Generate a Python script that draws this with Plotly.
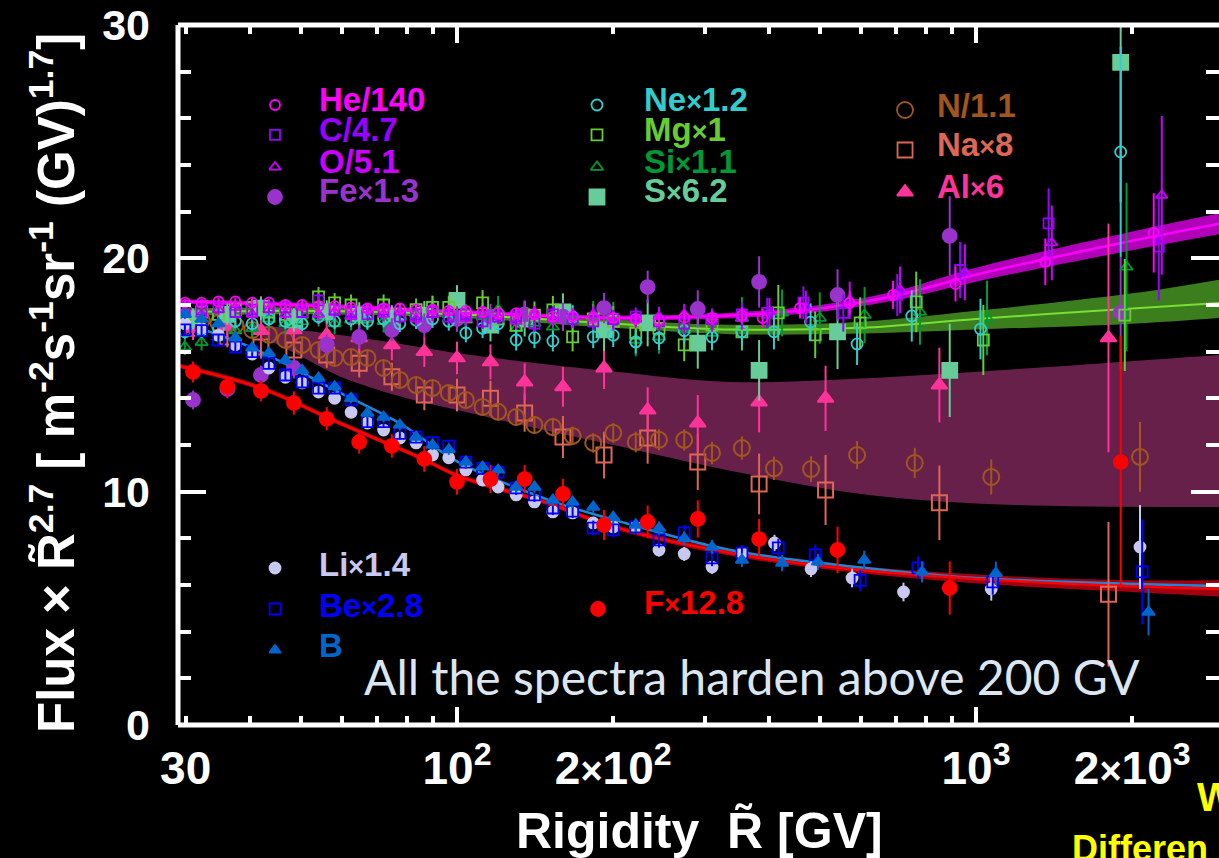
import plotly.graph_objects as go

# ---------------- rigidity bins [GV] ----------------
R_FINE = [29.9, 32.2, 34.7, 37.4, 40.3, 43.4, 46.7, 50.3, 54.1, 58.1, 62.5, 67.2, 72.2, 77.6,
          83.4, 89.7, 96.4, 104, 112, 120, 130, 141, 153, 167, 183, 200, 221, 245, 274, 310]
R_COARSE = [31.0, 36.1, 41.9, 48.5, 56.1, 64.8, 74.9, 86.5, 100, 116, 135, 160, 192, 233, 291,
            382, 541, 890, 1900]
R_COARSE_B = [31.0, 36.1, 41.9, 48.5, 56.1, 64.8, 74.9, 86.5, 100, 116, 135, 160, 192, 233, 291,
              382, 513, 850, 1800]

# ---------------- He / C / O / Fe ----------------
he_R = R_FINE + [354, 388, 458, 571, 692, 913, 1360, 2200]
he_y = [18.1, 18.1, 18.15, 18.15, 18.1, 18.1, 18.0, 18.0, 17.95, 17.95, 17.9, 17.85, 17.85, 17.85,
        17.8, 17.8, 17.75, 17.75, 17.7, 17.65, 17.65, 17.6, 17.5, 17.5, 17.45, 17.45, 17.4, 17.35,
        17.45, 17.45, 17.55, 17.44, 17.87, 18.09, 18.43, 18.9, 19.85, 21.09]
he_e = [0.15, 0.15, 0.15, 0.15, 0.15, 0.15, 0.15, 0.15, 0.15, 0.15, 0.15, 0.15, 0.15, 0.15, 0.15,
        0.18, 0.18, 0.18, 0.18, 0.2, 0.2, 0.2, 0.2, 0.22, 0.22, 0.25, 0.25, 0.28, 0.3, 0.3,
        0.35, 0.4, 0.45, 0.5, 0.6, 0.75, 1.0, 1.7]

c_R = R_FINE + [354, 396, 465, 555, 705, 932, 1380, 2250]
c_y = [17.9, 17.8, 17.9, 17.7, 17.8, 17.9, 17.9, 17.7, 18.2, 17.8, 17.7, 17.6, 17.8, 17.5, 17.6,
       17.7, 17.5, 17.6, 17.3, 17.5, 17.5, 17.2, 17.6, 17.4, 17.3, 17.4, 17.5, 17.3, 17.2, 17.4,
       17.6, 17.66, 18.1, 17.66, 18.43, 19.5, 21.5, 20.5]
c_e = [0.25, 0.25, 0.25, 0.25, 0.25, 0.25, 0.25, 0.25, 0.28, 0.28, 0.28, 0.28, 0.3, 0.3, 0.3,
       0.3, 0.3, 0.32, 0.32, 0.32, 0.35, 0.35, 0.35, 0.38, 0.38, 0.4, 0.4, 0.42, 0.45, 0.45,
       0.5, 0.65, 0.7, 0.8, 0.9, 1.2, 1.5, 2.3]

o_R = R_FINE + [354, 400, 470, 571, 714, 952, 1400, 2280]
o_y = [17.7, 17.6, 17.8, 17.9, 17.6, 17.8, 17.6, 17.9, 17.6, 17.7, 17.5, 17.8, 17.6, 17.7, 17.4,
       17.6, 17.7, 17.4, 17.6, 17.5, 17.3, 17.6, 17.4, 17.5, 17.6, 17.3, 17.4, 17.5, 17.6, 17.3,
       17.44, 17.7, 17.9, 18.2, 18.65, 19.4, 20.66, 22.7]
o_e = [0.25, 0.25, 0.25, 0.25, 0.25, 0.25, 0.25, 0.25, 0.28, 0.28, 0.28, 0.28, 0.3, 0.3, 0.3,
       0.3, 0.3, 0.32, 0.32, 0.32, 0.35, 0.35, 0.35, 0.38, 0.38, 0.4, 0.4, 0.42, 0.45, 0.45,
       0.5, 0.6, 0.7, 0.8, 1.0, 1.2, 1.6, 3.4]

fe_y = [13.93, 14.4, 15.0, 15.3, 16.3, 16.63, 16.93, 17.14, 17.4, 17.5, 17.6, 17.5, 17.87, 18.77,
        17.83, 18.99, 18.43, 20.96, 17.66]
fe_e = [0.4, 0.4, 0.4, 0.45, 0.45, 0.5, 0.5, 0.5, 0.55, 0.55, 0.6, 0.6, 0.65, 0.7, 0.8, 1.1, 1.1,
        1.7, 2.4]

# ---------------- Ne / Mg / Si / S ----------------
ne_R = R_FINE + [354, 408, 480, 590, 752, 1020, 1900]
ne_y = [16.85, 16.9, 17.0, 17.3, 17.2, 17.4, 17.3, 17.2, 17.5, 17.3, 17.4, 17.3, 17.4, 17.2, 17.35,
        17.4, 17.3, 16.8, 17.0, 17.2, 16.5, 16.6, 16.46, 17.5, 16.63, 16.7, 16.42, 16.59, 16.9, 16.63,
        16.85, 16.85, 17.27, 16.33, 17.53, 16.97, 24.56]
ne_e = [0.3, 0.3, 0.3, 0.3, 0.3, 0.3, 0.32, 0.32, 0.32, 0.34, 0.34, 0.34, 0.36, 0.36, 0.38, 0.38,
        0.4, 0.4, 0.42, 0.42, 0.45, 0.45, 0.45, 0.48, 0.48, 0.5, 0.5, 0.52, 0.55, 0.55,
        0.6, 0.75, 0.8, 0.9, 1.1, 1.3, 4.5]

mg_R = R_FINE + [354, 416, 490, 598, 767, 1033, 1935]
mg_y = [17.4, 17.7, 17.6, 17.8, 17.9, 17.7, 17.6, 17.7, 18.35, 18.09, 18.0, 17.6, 18.0, 17.6, 17.8,
        17.9, 17.9, 17.5, 18.09, 17.4, 17.14, 17.57, 17.79, 16.63, 17.4, 17.3, 16.8, 17.0, 16.29, 17.14,
        16.85, 17.66, 16.72, 17.23, 18.13, 16.5, 17.57]
mg_e = [0.35, 0.35, 0.35, 0.35, 0.38, 0.38, 0.4, 0.4, 0.42, 0.42, 0.45, 0.45, 0.45, 0.48, 0.48,
        0.5, 0.5, 0.52, 0.55, 0.55, 0.58, 0.58, 0.6, 0.62, 0.62, 0.65, 0.65, 0.68, 0.7, 0.7,
        0.8, 1.2, 1.0, 1.1, 1.3, 1.5, 2.4]

si_R = R_FINE + [354, 423, 500, 610, 780, 1050, 1950]
si_y = [16.2, 16.4, 16.6, 16.9, 17.0, 17.4, 17.2, 17.3, 17.5, 17.2, 17.36, 17.4, 17.3, 17.5, 17.6,
        17.87, 17.6, 17.36, 17.5, 17.79, 17.0, 17.23, 17.06, 17.36, 17.5, 17.44, 16.5, 16.63, 16.93, 16.8,
        17.44, 17.66, 17.44, 17.57, 17.7, 17.44, 19.63]
si_e = [0.35, 0.35, 0.35, 0.38, 0.38, 0.4, 0.4, 0.42, 0.42, 0.45, 0.45, 0.48, 0.48, 0.5, 0.5,
        0.52, 0.55, 0.55, 0.58, 0.6, 0.6, 0.62, 0.65, 0.65, 0.68, 0.7, 0.7, 0.72, 0.75, 0.75,
        0.9, 1.0, 1.1, 1.2, 1.4, 1.6, 3.6]

s_y = [17.4, 17.6, 17.87, 17.36, 17.7, 17.57, 17.44, 17.57, 18.2, 17.14, 17.4, 17.7, 16.93, 17.23,
       16.37, 15.2, 16.85, 15.2, 28.4]
s_e = [0.45, 0.45, 0.5, 0.5, 0.5, 0.55, 0.55, 0.6, 0.65, 0.7, 0.75, 0.8, 0.9, 1.0, 1.1, 1.3, 1.6,
       2.0, 6.0]

# ---------------- N / Na / Al ----------------
n_R = R_FINE + [354, 408, 481, 590, 762, 1070, 2070]
n_y = [17.66, 17.36, 17.23, 17.14, 16.93, 16.72, 16.5, 16.29, 16.07, 15.73, 15.77, 15.73, 15.3, 14.79,
       14.57, 14.44, 14.23, 13.93, 13.63, 13.42, 13.2, 12.86, 12.77, 12.39, 12.09, 12.52, 12.13, 12.22,
       12.22, 11.66, 11.87, 11.0, 10.97, 11.57, 11.23, 10.63, 11.49]
n_e = [0.3, 0.3, 0.3, 0.3, 0.3, 0.3, 0.3, 0.3, 0.32, 0.32, 0.32, 0.32, 0.34, 0.34, 0.34, 0.35,
       0.35, 0.36, 0.36, 0.37, 0.38, 0.38, 0.4, 0.4, 0.42, 0.42, 0.44, 0.45, 0.46, 0.48,
       0.5, 0.5, 0.55, 0.6, 0.65, 0.75, 1.5]

na_y = [17.0, 16.63, 16.2, 16.07, 15.86, 15.5, 14.92, 14.14, 14.14, 14.0, 13.37, 12.34, 11.57, 12.3,
        11.27, 10.33, 10.07, 9.52, 5.6]
na_e = [0.45, 0.45, 0.5, 0.5, 0.55, 0.6, 0.6, 0.65, 0.7, 0.75, 0.8, 0.9, 1.0, 1.1, 1.2, 1.3, 1.5,
        1.6, 3.1]

al_y = [17.0, 17.1, 16.9, 16.93, 16.72, 16.59, 16.29, 16.0, 15.73, 15.56, 14.7, 14.49, 15.3, 13.5,
        12.94, 13.84, 14.0, 14.57, 16.59]
al_e = [0.5, 0.5, 0.55, 0.55, 0.6, 0.6, 0.65, 0.65, 0.7, 0.75, 0.8, 0.85, 0.9, 0.97, 1.2, 1.3, 1.4,
        1.6, 4.9]

# ---------------- Li / Be / B / F ----------------
li_R = R_FINE + [354, 409, 481, 577, 725, 1070, 2070]
li_y = [17.2, 17.0, 16.7, 16.3, 15.9, 15.3, 14.9, 14.66, 14.27, 14.0, 13.4, 12.94, 12.64, 12.3, 12.09,
        11.57, 11.45, 10.93, 10.5, 10.2, 9.86, 9.56, 9.13, 9.09, 8.66, 8.49, 8.49, 7.5, 7.33, 6.77,
        7.37, 7.8, 6.69, 6.3, 5.7, 5.83, 7.63]
li_e = [0.2, 0.2, 0.2, 0.2, 0.2, 0.2, 0.2, 0.2, 0.2, 0.2, 0.2, 0.2, 0.22, 0.22, 0.22, 0.22, 0.22,
        0.24, 0.24, 0.24, 0.25, 0.25, 0.25, 0.26, 0.26, 0.27, 0.28, 0.28, 0.3, 0.3,
        0.3, 0.35, 0.35, 0.4, 0.4, 0.5, 1.8]

be_R = R_FINE + [354, 416, 490, 598, 773, 1077, 2090]
be_y = [16.93, 16.9, 16.5, 16.2, 16.0, 15.5, 15.0, 14.7, 14.44, 14.44, 13.93, 13.0, 13.0, 12.5, 12.34,
        12.1, 11.95, 11.27, 11.0, 10.84, 10.16, 9.86, 9.3, 9.17, 8.44, 8.36, 8.49, 7.93, 8.23, 7.16,
        7.37, 7.59, 7.29, 6.2, 6.73, 6.13, 6.56]
be_e = [0.25, 0.25, 0.25, 0.25, 0.25, 0.25, 0.25, 0.25, 0.25, 0.25, 0.25, 0.25, 0.26, 0.26, 0.26,
        0.27, 0.27, 0.28, 0.28, 0.28, 0.3, 0.3, 0.3, 0.3, 0.32, 0.32, 0.33, 0.33, 0.34, 0.35,
        0.35, 0.4, 0.45, 0.45, 0.5, 0.55, 2.25]

b_R = R_FINE + [354, 423, 496, 609, 787, 1092, 2150]
b_y = [17.6, 17.4, 17.2, 16.6, 16.16, 15.94, 15.64, 15.2, 14.87, 14.5, 14.0, 13.37, 13.2, 12.86, 12.34,
       12.0, 11.8, 11.27, 11.06, 10.93, 10.2, 10.2, 9.64, 9.56, 9.34, 8.9, 8.57, 8.44, 8.0, 7.63,
       7.07, 6.94, 6.99, 7.07, 6.56, 6.5, 4.84]
b_e = [0.2, 0.2, 0.2, 0.2, 0.2, 0.2, 0.2, 0.2, 0.2, 0.2, 0.2, 0.2, 0.22, 0.22, 0.22, 0.22, 0.22,
       0.24, 0.24, 0.24, 0.25, 0.25, 0.25, 0.26, 0.26, 0.27, 0.28, 0.28, 0.3, 0.3,
       0.3, 0.35, 0.35, 0.4, 0.45, 0.5, 1.0]

f_y = [15.13, 14.49, 14.32, 13.80, 13.12, 12.13, 11.96, 11.40, 10.42, 10.54, 10.54, 9.90, 8.57, 8.70,
       8.83, 7.97, 7.50, 5.87, 11.27]
f_e = [0.45, 0.45, 0.45, 0.5, 0.5, 0.5, 0.5, 0.55, 0.55, 0.6, 0.6, 0.65, 0.65, 0.7, 0.8, 0.86, 1.0,
       1.14, 5.4]

# ---------------- fitted curves and bands ----------------
hefit_R = [29, 50, 100, 200, 336, 500, 700, 1000, 2000, 2965]
hefit_y = [18.15, 18.0, 17.7, 17.45, 17.55, 17.85, 18.4, 19.3, 20.75, 21.5]
hefit_hi = [18.25, 18.1, 17.8, 17.55, 17.67, 18.0, 18.6, 19.6, 21.15, 21.95]
hefit_lo = [18.05, 17.9, 17.6, 17.35, 17.43, 17.7, 18.2, 19.0, 20.35, 21.05]

nefit_R = [29, 50, 100, 200, 336, 600, 1000, 2000, 2965]
nefit_y = [17.7, 17.75, 17.6, 17.2, 16.95, 17.02, 17.4, 17.85, 18.09]
nefit_hi = [17.85, 17.9, 17.75, 17.38, 17.15, 17.28, 17.75, 18.5, 19.1]
nefit_lo = [17.55, 17.6, 17.45, 17.02, 16.75, 16.78, 16.95, 17.2, 17.45]

nband_R = [40, 50, 60, 80, 100, 150, 200, 336, 600, 1110, 2965]
nband_hi = [17.2, 16.93, 16.7, 16.29, 15.94, 15.45, 15.15, 14.7, 14.85, 15.2, 15.86]
nband_lo = [16.9, 15.8, 14.9, 14.0, 13.5, 12.6, 12.0, 10.9, 9.9, 9.45, 9.34]

ffit_R = [29, 41.9, 60, 86, 100, 150, 200, 336, 600, 1110, 2000, 2965]
ffit_y = [15.4, 14.44, 12.9, 11.4, 10.7, 9.5, 8.5, 7.37, 6.64, 6.2, 5.95, 5.83]
ffit_hi = [15.5, 14.54, 13.0, 11.5, 10.8, 9.6, 8.6, 7.5, 6.8, 6.4, 6.2, 6.2]
ffit_lo = [15.3, 14.34, 12.8, 11.3, 10.6, 9.4, 8.4, 7.25, 6.5, 6.0, 5.7, 5.5]

lifit_R = [29, 40, 60, 78, 100, 150, 200, 336, 600, 1000, 2965]
lifit_y = [17.3, 16.2, 14.2, 12.9, 11.3, 9.65, 8.8, 7.5, 6.75, 6.3, 5.95]

# ---------------- colours ----------------
COL = dict(He="#ff00ff", C="#9900ff", O="#cc00ff", Fe="#9933cc", Ne="#33cccc", Mg="#66cc33",
           Si="#009933", S="#66cc99", N="#a0561e", Na="#dd6655", Al="#ff3399", Li="#c8c8f0",
           Be="#0000ff", B="#0066cc", F="#ff0000")

fig = go.Figure()


def band(R, hi, lo, color):
    # lower edge first, then the upper edge filled down to it
    fig.add_trace(go.Scatter(x=R, y=lo, mode="lines", line=dict(width=0, shape="spline", color=color),
                             hoverinfo="skip", showlegend=False))
    fig.add_trace(go.Scatter(x=R, y=hi, mode="lines", fill="tonexty", fillcolor=color,
                             line=dict(width=0, shape="spline", color=color),
                             hoverinfo="skip", showlegend=False))


def curve(R, y, color, width=2.5):
    fig.add_trace(go.Scatter(x=R, y=y, mode="lines", line=dict(color=color, width=width, shape="spline"),
                             hoverinfo="skip", showlegend=False))


def series(R, y, e, color, symbol, size, lw=1.8):
    fig.add_trace(go.Scatter(
        x=R, y=y, mode="markers",
        error_y=dict(type="data", array=e, visible=True, color=color, thickness=2, width=0),
        marker=dict(symbol=symbol, size=size, color=color, line=dict(width=lw, color=color)),
        showlegend=False))


# bands
band(nband_R, nband_hi, nband_lo, "#66204a")
band(nefit_R, nefit_hi, nefit_lo, "#3c7d1e")
band(hefit_R, hefit_hi, hefit_lo, "#b000b8")
band(ffit_R, ffit_hi, ffit_lo, "#a00010")
# fitted lines
curve(nefit_R, nefit_y, "#77e033", 2)
curve(hefit_R, hefit_y, "#ff00ff", 2.5)
curve(lifit_R, lifit_y, "#1f86d8", 2.5)
curve(ffit_R, ffit_y, "#ff0000", 2.5)

# measurements
series(R_COARSE_B, na_y, na_e, COL["Na"], "square-open", 15, 2)
series(n_R, n_y, n_e, COL["N"], "circle-open", 16, 2)
series(R_COARSE_B, al_y, al_e, COL["Al"], "triangle-up", 14)
series(R_COARSE, s_y, s_e, COL["S"], "square", 15)
series(R_COARSE, fe_y, fe_e, COL["Fe"], "circle", 14)
series(si_R, si_y, si_e, COL["Si"], "triangle-up-open", 11)
series(mg_R, mg_y, mg_e, COL["Mg"], "square-open", 11)
series(ne_R, ne_y, ne_e, COL["Ne"], "circle-open", 11)
series(o_R, o_y, o_e, COL["O"], "triangle-up-open", 10)
series(c_R, c_y, c_e, COL["C"], "square-open", 10)
series(he_R, he_y, he_e, COL["He"], "circle-open", 10)
series(li_R, li_y, li_e, COL["Li"], "circle", 11)
series(be_R, be_y, be_e, COL["Be"], "square-open", 11)
series(b_R, b_y, b_e, COL["B"], "triangle-up", 11)
series(R_COARSE, f_y, f_e, COL["F"], "circle", 14)

# ---------------- legend keys (paper-fraction overlay axes) ----------------
X = "<span style='font-size:27px'>×</span>"
legend_items = [
    # label, colour, symbol, size, key x, key y, text x, text y
    ("He/140", COL["He"], "circle-open", 10, 0.0932, 0.8857, 0.1340, 0.8929),
    ("C/4.7", COL["C"], "square-open", 10, 0.0932, 0.8429, 0.1340, 0.8514),
    ("O/5.1", COL["O"], "triangle-up-open", 10, 0.0932, 0.7971, 0.1340, 0.8057),
    ("Fe" + X + "1.3", COL["Fe"], "circle", 14, 0.0932, 0.7543, 0.1340, 0.7629),
    ("Ne" + X + "1.2", COL["Ne"], "circle-open", 11, 0.4025, 0.8857, 0.4457, 0.8929),
    ("Mg" + X + "1", COL["Mg"], "square-open", 11, 0.4025, 0.8429, 0.4457, 0.8514),
    ("Si" + X + "1.1", COL["Si"], "triangle-up-open", 11, 0.4025, 0.7971, 0.4457, 0.8057),
    ("S" + X + "6.2", COL["S"], "square", 15, 0.4025, 0.7543, 0.4457, 0.7629),
    ("N/1.1", COL["N"], "circle-open", 16, 0.6984, 0.8786, 0.7272, 0.8857),
    ("Na" + X + "8", COL["Na"], "square-open", 15, 0.6984, 0.8214, 0.7272, 0.8286),
    ("Al" + X + "6", COL["Al"], "triangle-up", 14, 0.6984, 0.7614, 0.7272, 0.7686),
    ("Li" + X + "1.4", COL["Li"], "circle", 11, 0.0932, 0.2243, 0.1340, 0.2300),
    ("Be" + X + "2.8", COL["Be"], "square-open", 11, 0.0932, 0.1657, 0.1340, 0.1714),
    ("B", COL["B"], "triangle-up", 10, 0.0932, 0.1071, 0.1340, 0.1129),
    ("F" + X + "12.8", COL["F"], "circle", 14, 0.4035, 0.1657, 0.4457, 0.1757),
]

annotations = []
for label, color, sym, size, kx, ky, tx, ty in legend_items:
    fig.add_trace(go.Scatter(x=[kx], y=[ky], xaxis="x2", yaxis="y2", mode="markers",
                             marker=dict(symbol=sym, size=size, color=color, line=dict(width=1.8, color=color)),
                             showlegend=False, hoverinfo="skip"))
    annotations.append(dict(text=label, x=tx, y=ty, xref="paper", yref="paper", xanchor="left",
                            yanchor="middle", showarrow=False,
                            font=dict(family="Liberation Sans", size=33, color=color, weight="bold")))

BOLD = dict(family="Liberation Sans", color="white", weight="bold")
annotations += [
    dict(text="Flux × R\u0303<sup>2.7</sup> [ m<sup>-2</sup>s<sup>-1</sup>sr<sup>-1</sup> (GV)<sup>1.7</sup>]",
         x=(53 - 178) / 1041, y=0.4886, xref="paper", yref="paper", textangle=-90, showarrow=False,
         xanchor="center", yanchor="middle", font=dict(BOLD, size=51)),
    dict(text="Rigidity  R\u0303 [GV]", x=0.5014, y=-0.152, xref="paper", yref="paper",
         showarrow=False, xanchor="center", yanchor="middle", font=dict(BOLD, size=50)),
    dict(text="All the spectra harden above 200 GV", x=(362 - 178) / 1041, y=0.0686,
         xref="paper", yref="paper", showarrow=False, xanchor="left", yanchor="middle",
         font=dict(family="Lato", size=48, color="#dce6f2")),
    dict(text="W", x=(1195 - 178) / 1041, y=-0.103, xref="paper", yref="paper", showarrow=False,
         xanchor="left", yanchor="middle",
         font=dict(family="Liberation Sans", size=40, color="#ffff00", weight="bold")),
    dict(text="Differen", x=(1070 - 178) / 1041, y=-0.176, xref="paper", yref="paper",
         showarrow=False, xanchor="left", yanchor="middle",
         font=dict(family="Liberation Sans", size=36, color="#ffff00", weight="bold")),
]

# ---------------- frame and long decade ticks ----------------
shapes = [
    dict(type="line", xref="paper", yref="paper", x0=0, x1=0, y0=0, y1=1, line=dict(color="white", width=5)),
    dict(type="line", xref="paper", yref="paper", x0=0, x1=1, y0=0, y1=0, line=dict(color="white", width=5)),
    dict(type="line", xref="paper", yref="paper", x0=0, x1=1, y0=1, y1=1, line=dict(color="white", width=5)),
]
for dec in [100, 1000]:
    shapes.append(dict(type="line", xref="x", yref="paper", ysizemode="pixel", yanchor=0,
                       x0=dec, x1=dec, y0=0, y1=18, line=dict(color="white", width=4)))
    shapes.append(dict(type="line", xref="x", yref="paper", ysizemode="pixel", yanchor=1,
                       x0=dec, x1=dec, y0=0, y1=-18, line=dict(color="white", width=4)))

XS = "<span style='font-size:38px'>×</span>"
fig.update_layout(
    width=1219, height=858,
    margin=dict(l=178, r=0, t=25, b=133),
    paper_bgcolor="black", plot_bgcolor="black",
    showlegend=False,
    xaxis=dict(type="log", range=[1.4624, 3.4682], showgrid=False, zeroline=False, showline=False,
               ticks="inside", ticklen=9, tickwidth=4, tickcolor="white", mirror="ticks",
               tickvals=[30, 100, 200, 1000, 2000],
               ticktext=["30", "10<sup>2</sup>", "2" + XS + "10<sup>2</sup>", "10<sup>3</sup>",
                         "2" + XS + "10<sup>3</sup>"],
               tickfont=dict(BOLD, size=46), ticklabelstandoff=12,
               minor=dict(ticks="inside", ticklen=9, tickwidth=4, tickcolor="white",
                          tickvals=[40, 50, 60, 70, 80, 90, 300, 400, 500, 600, 700, 800, 900])),
    yaxis=dict(range=[0, 30], showgrid=False, zeroline=False, showline=False,
               ticks="inside", ticklen=28, tickwidth=4, tickcolor="white", mirror="ticks",
               tickvals=[0, 10, 20, 30], tickfont=dict(BOLD, size=43), ticklabelstandoff=27,
               minor=dict(ticks="inside", ticklen=13, tickwidth=4, tickcolor="white", dtick=2, tick0=0)),
    xaxis2=dict(overlaying="x", range=[0, 1], visible=False),
    yaxis2=dict(overlaying="y", range=[0, 1], visible=False),
    annotations=annotations,
    shapes=shapes,
)

fig.write_html("out.html")
